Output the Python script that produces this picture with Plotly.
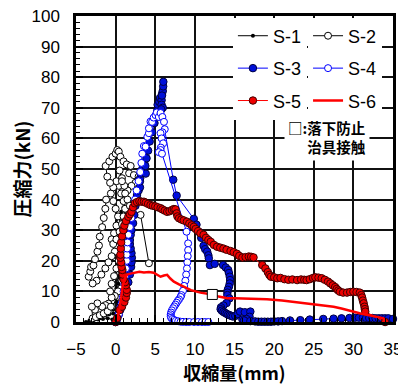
import plotly.graph_objects as go

# ---------------- data ----------------
x_ticks = [-5, 0, 5, 10, 15, 20, 25, 30, 35]
y_ticks = [0, 10, 20, 30, 40, 50, 60, 70, 80, 90, 100]

s1_points = [(0.0, 0.0), (-0.4, 0.8), (-1.0, 1.2), (-1.6, 1.0), (-2.2, 0.8), (-2.8, 0.5), (-3.3, 0.2),
             (-3.75, 0.0), (-3.3, 0.5), (-2.8, 0.9), (-2.3, 1.3), (-1.8, 1.7), (-1.3, 2.1), (-0.8, 2.5),
             (-0.3, 2.8), (0.2, 3.0), (0.3, 4.5), (0.2, 6.5), (0.1, 8.5), (0.2, 10.5), (0.35, 12.5),
             (0.5, 14.5), (0.6, 16.5), (0.5, 18.5), (0.4, 20.5), (0.5, 22.5), (0.6, 24.5), (0.7, 26.5),
             (0.9, 28.0), (0.6, 29.0), (0.3, 30.5), (0.5, 32.0), (0.8, 33.5), (1.1, 35.0), (1.3, 36.5),
             (1.0, 37.5), (0.7, 36.0), (0.4, 34.0), (0.7, 31.5), (1.0, 29.5), (1.3, 28.0), (1.0, 26.0),
             (0.6, 23.0), (0.4, 19.0), (0.3, 15.0), (0.1, 11.0), (-0.1, 7.0), (-0.3, 4.0)]

s2_points = [(0.0, 0.0), (0.3, 2.0), (0.6, 4.5), (0.8, 7.0), (0.9, 9.5), (0.7, 11.0), (0.3, 10.0),
             (-0.1, 8.5), (-0.5, 7.0), (-0.9, 6.0), (-1.3, 5.5), (-1.7, 5.0), (-2.3, 6.1), (-2.6, 4.0),
             (-3.0, 5.0), (-2.9, 1.2), (-2.5, 1.6), (-2.0, 2.2), (-1.5, 2.8), (-1.0, 3.5), (-0.6, 5.0),
             (-0.5, 8.0), (-0.7, 10.0), (-0.5, 12.5), (-0.2, 15.0), (0.1, 17.5), (0.4, 20.0), (0.5, 22.5),
             (0.3, 24.5), (-0.1, 23.0), (-0.5, 21.5), (-0.9, 19.5), (-1.3, 17.5), (-1.8, 15.5),
             (-2.4, 13.5), (-2.9, 12.6), (-3.4, 14.8), (-3.2, 16.5), (-3.1, 18.0), (-2.8, 18.5),
             (-2.6, 20.5), (-2.3, 23.0), (-2.1, 25.0), (-2.0, 27.9), (-1.7, 31.0), (-1.5, 34.0),
             (-1.3, 37.0), (-1.2, 40.0), (-0.6, 42.0), (-0.3, 39.5), (0.0, 37.0), (0.3, 34.5),
             (0.1, 31.5), (-0.2, 29.0), (-0.5, 27.0), (-0.3, 25.5), (0.1, 27.0), (0.5, 29.5), (0.8, 32.0),
             (1.0, 34.5), (1.2, 37.0), (1.0, 39.5), (0.7, 42.0), (0.4, 44.5), (0.1, 46.0), (-0.3, 44.0),
             (-0.7, 45.5), (-1.05, 47.5), (-1.26, 51.0), (-0.8, 52.5), (-0.4, 54.0), (0.0, 55.0),
             (0.2, 56.2), (0.4, 55.7), (0.6, 54.0), (1.0, 52.5), (1.4, 51.5), (1.9, 51.0), (1.7, 48.6),
             (2.3, 48.0), (2.9, 47.5), (2.5, 45.5), (2.0, 44.5), (1.5, 43.0), (1.1, 44.5), (0.8, 47.0),
             (0.5, 49.5), (0.8, 46.0), (1.2, 42.0), (1.5, 40.0), (1.8, 38.0), (2.1, 36.0), (3.15, 35.0),
             (4.2, 19.2)]

s3_points = [(0.0, 0.0), (0.2, 1.0), (0.4, 2.5), (0.6, 4.0), (0.8, 6.0), (1.0, 8.0), (1.3, 10.5),
             (1.6, 13.0), (1.8, 15.5), (1.95, 18.0), (2.0, 19.5), (2.05, 21.0), (2.0, 22.5), (1.9, 24.0),
             (1.8, 25.5), (1.8, 26.8), (1.9, 28.5), (2.0, 30.0), (2.2, 32.3), (2.35, 35.0), (2.5, 38.0),
             (2.6, 40.0), (2.7, 41.5), (2.9, 43.0), (3.07, 44.0), (3.07, 46.0), (3.1, 47.0), (3.2, 48.5),
             (3.36, 50.0), (3.6, 52.0), (3.8, 48.5), (3.75, 51.0), (3.9, 53.5), (4.1, 56.0), (4.3, 59.0),
             (4.6, 62.0), (4.9, 65.0), (5.1, 67.0), (5.25, 69.0), (5.3, 71.0), (5.5, 72.0), (5.6, 73.2),
             (5.8, 72.5), (5.85, 74.5), (5.95, 75.5), (6.0, 77.0), (6.02, 78.5), (5.85, 74.0),
             (5.8, 71.0), (5.95, 70.0), (5.75, 69.5), (7.27, 46.5), (7.7, 41.3), (9.87, 33.7),
             (10.2, 31.8), (10.5, 29.5), (10.8, 27.5), (11.1, 24.9), (11.3, 23.8), (11.55, 23.0),
             (11.7, 21.8), (11.76, 20.8), (11.9, 18.6), (12.5, 19.0), (13.56, 18.6), (13.9, 17.8),
             (14.2, 17.0), (14.3, 16.0), (14.4, 14.8), (14.45, 13.7), (14.4, 12.6), (14.3, 11.5),
             (14.15, 10.5), (14.1, 9.6), (14.1, 8.8), (14.36, 7.7), (14.0, 6.2), (13.6, 5.4),
             (13.3, 4.8), (13.25, 4.2), (13.4, 3.7), (13.6, 3.3), (13.8, 3.0), (14.0, 2.7), (14.2, 2.4),
             (14.4, 2.2), (14.6, 2.0), (14.8, 1.8), (15.1, 2.0), (15.4, 2.6), (15.7, 3.4), (16.3, 3.2),
             (17.0, 3.4), (16.9, 1.7), (16.5, 1.0), (16.0, 0.8), (16.2, 0.5), (17.0, 0.3), (17.6, 0.2),
             (18.0, 0.1), (18.4, 0.1), (18.8, 0.1), (19.2, 0.1), (19.6, 0.1), (20.0, 0.2), (20.5, 0.2),
             (21.0, 0.3), (22.0, 0.5), (23.3, 0.6), (24.5, 0.8), (26.2, 1.0), (27.5, 1.1), (28.5, 1.2),
             (29.5, 1.3), (30.2, 1.4), (30.7, 1.4), (31.2, 1.4), (31.6, 1.3), (32.0, 1.3), (32.4, 1.3),
             (32.8, 1.2), (33.2, 1.2), (33.6, 1.2), (34.0, 1.2), (34.4, 1.2), (35.0, 1.0)]

s4_points = [(0.0, 0.0), (0.2, 1.0), (0.4, 2.5), (0.55, 4.5), (0.75, 6.0), (0.9, 8.0), (1.0, 10.0),
             (1.1, 12.5), (1.2, 15.0), (1.3, 17.5), (1.4, 20.0), (1.4, 22.0), (1.45, 24.0), (1.5, 26.0),
             (1.6, 28.5), (1.8, 31.0), (2.0, 34.0), (2.2, 37.0), (2.45, 40.0), (2.65, 43.0), (2.9, 46.0),
             (3.1, 49.0), (3.25, 52.0), (3.36, 55.0), (3.57, 57.5), (3.78, 57.3), (4.0, 60.5),
             (4.2, 61.7), (4.2, 63.3), (4.4, 65.5), (4.6, 65.4), (4.8, 66.8), (5.04, 67.6), (5.2, 68.5),
             (5.45, 67.0), (5.67, 68.3), (5.9, 67.0), (6.1, 65.4), (6.2, 63.0), (5.9, 62.0),
             (5.67, 61.7), (5.8, 60.0), (6.0, 58.4), (5.7, 57.0), (5.67, 56.2), (5.45, 55.5),
             (5.85, 55.0), (8.95, 29.5), (9.15, 25.7), (9.15, 23.5), (9.1, 21.5), (9.05, 19.5),
             (9.0, 17.5), (8.9, 15.5), (8.8, 13.5), (8.65, 11.8), (8.5, 10.2), (8.3, 8.8), (8.2, 8.2),
             (8.0, 7.4), (7.85, 6.9), (7.7, 6.3), (7.55, 5.7), (7.4, 5.1), (7.25, 4.5), (7.1, 3.8),
             (7.0, 3.1), (6.95, 2.5), (6.95, 1.9), (7.0, 1.4), (7.15, 1.0), (7.35, 0.7), (7.6, 0.4),
             (7.9, 0.25), (8.2, 0.1), (8.5, 0.05), (8.9, 0.0), (9.3, 0.0), (9.9, 0.0), (10.4, 0.0),
             (10.9, 0.0), (11.3, 0.0), (11.7, 0.0)]

s5_points = [(0.0, 0.0), (0.2, 1.3), (0.5, 3.9), (0.8, 5.0), (1.1, 6.5), (1.3, 8.0), (1.4, 9.5),
             (1.4, 10.5), (1.3, 12.0), (1.2, 13.0), (1.0, 14.0), (0.9, 15.5), (0.85, 17.0), (0.75, 18.0),
             (0.7, 19.5), (0.6, 21.0), (0.6, 22.0), (0.65, 24.0), (0.7, 26.0), (0.8, 28.0), (0.97, 30.0),
             (1.1, 31.5), (1.3, 33.0), (1.6, 34.4), (1.8, 35.2), (2.0, 36.0), (2.2, 37.5), (2.43, 38.8),
             (2.7, 39.2), (3.0, 39.5), (3.27, 39.3), (3.57, 39.3), (3.8, 39.0), (4.1, 38.6), (4.4, 38.2),
             (4.7, 38.0), (5.0, 37.8), (5.3, 37.5), (5.67, 37.2), (5.9, 36.8), (6.2, 36.4), (6.5, 36.0),
             (6.8, 36.2), (7.1, 36.6), (7.35, 36.9), (7.55, 36.8), (7.7, 35.5), (7.8, 34.5), (8.0, 33.9),
             (8.3, 33.5), (8.6, 33.2), (9.0, 32.8), (9.3, 32.2), (9.6, 31.6), (9.87, 31.1), (10.1, 30.4),
             (10.4, 29.7), (10.7, 29.0), (11.1, 28.5), (11.4, 27.5), (11.7, 26.8), (12.0, 26.2),
             (12.4, 25.2), (12.8, 24.6), (13.2, 24.3), (13.6, 24.0), (14.0, 23.6), (14.5, 23.2),
             (14.9, 22.8), (15.3, 22.3), (15.6, 21.6), (16.0, 21.1), (16.4, 21.2), (16.8, 21.4),
             (17.1, 21.3), (17.4, 21.1), (18.5, 18.6), (18.9, 17.5), (19.2, 16.3), (19.4, 15.4),
             (19.6, 14.8), (20.0, 14.6), (20.4, 14.3), (20.8, 14.4), (21.3, 14.0), (21.8, 13.8),
             (22.3, 13.9), (22.9, 13.7), (23.4, 13.9), (23.8, 13.8), (24.1, 13.7), (24.5, 14.0),
             (24.9, 14.4), (25.2, 14.6), (25.6, 14.5), (26.0, 14.3), (26.4, 13.8), (26.8, 13.2),
             (27.1, 12.6), (27.4, 12.0), (27.7, 11.4), (27.9, 10.8), (28.1, 10.3), (28.3, 9.9),
             (28.7, 9.6), (29.2, 9.6), (29.6, 9.8), (30.0, 9.9), (30.4, 9.8), (30.8, 9.6), (31.0, 8.8),
             (31.1, 8.0), (31.2, 7.0), (31.3, 6.1), (31.4, 5.0), (31.45, 4.2), (31.5, 3.4), (34.0, 0.0)]

s6_points = [(0.0, 0.0), (0.4, 3.0), (0.7, 8.0), (0.9, 12.0), (1.2, 14.5), (1.5, 15.6), (2.0, 15.9),
             (2.5, 16.2), (3.0, 16.4), (3.57, 16.2), (4.2, 16.3), (4.8, 16.1), (5.2, 15.5), (5.67, 14.8),
             (6.1, 15.2), (6.5, 15.4), (6.9, 14.2), (7.35, 13.2), (8.0, 12.3), (8.6, 11.5), (9.5, 10.4),
             (10.7, 9.6), (11.5, 9.2), (12.2, 9.0), (13.0, 8.3), (14.1, 7.8), (15.0, 7.8), (16.2, 7.7),
             (17.5, 7.7), (19.1, 7.4), (21.0, 7.0), (23.3, 6.3), (25.5, 5.6), (27.5, 5.0), (28.5, 4.4),
             (29.2, 3.9), (30.1, 3.3), (30.9, 2.8), (32.0, 2.2), (33.0, 1.7), (33.8, 1.2), (34.0, 0.2)]

contact_point = [(12.2, 9.0)]   # 落下防止治具接触

series_names = ["S-1", "S-2", "S-3", "S-4", "S-5", "S-6"]


def xs(pts):
    return [p[0] for p in pts]


def ys(pts):
    return [p[1] for p in pts]


fig = go.Figure()

# S-1 : small black dots
fig.add_trace(go.Scatter(x=xs(s1_points), y=ys(s1_points), name=series_names[0], mode="lines+markers",
                         line=dict(color="black", width=1),
                         marker=dict(size=4, color="black"),
                         legend="legend", legendgroup="g1", cliponaxis=False))
# S-2 : open black circles
fig.add_trace(go.Scatter(x=xs(s2_points), y=ys(s2_points), name=series_names[1], mode="lines+markers",
                         line=dict(color="black", width=1),
                         marker=dict(size=7, color="white", line=dict(color="black", width=1)),
                         legend="legend2", legendgroup="g2", cliponaxis=False))
# S-3 : filled blue circles
fig.add_trace(go.Scatter(x=xs(s3_points), y=ys(s3_points), name=series_names[2], mode="lines+markers",
                         line=dict(color="#0000ff", width=1),
                         marker=dict(size=7.5, color="#0010d8", line=dict(color="#000040", width=1)),
                         legend="legend", legendgroup="g3", cliponaxis=False))
# S-4 : open blue circles
fig.add_trace(go.Scatter(x=xs(s4_points), y=ys(s4_points), name=series_names[3], mode="lines+markers",
                         line=dict(color="#0000ff", width=1),
                         marker=dict(size=7, color="white", line=dict(color="#0000ff", width=1)),
                         legend="legend2", legendgroup="g4", cliponaxis=False))
# S-5 : filled red circles
fig.add_trace(go.Scatter(x=xs(s5_points), y=ys(s5_points), name=series_names[4], mode="lines+markers",
                         line=dict(color="#ff0000", width=1),
                         marker=dict(size=7.5, color="#ee0000", line=dict(color="#400000", width=1)),
                         legend="legend", legendgroup="g5", cliponaxis=False))
# S-6 : red line
fig.add_trace(go.Scatter(x=xs(s6_points), y=ys(s6_points), name=series_names[5], mode="lines",
                         line=dict(color="#ff0000", width=2.5),
                         legend="legend2", legendgroup="g6", cliponaxis=False))
# contact marker
fig.add_trace(go.Scatter(x=xs(contact_point), y=ys(contact_point), mode="markers", showlegend=False,
                         marker=dict(symbol="square", size=10, color="white",
                                     line=dict(color="black", width=1))))

axis_common = dict(showgrid=True, gridcolor="#111111", gridwidth=1.5, zeroline=False,
                   showline=True, linecolor="black", linewidth=2.5, mirror=True,
                   ticks="inside", ticklen=7, tickwidth=1.5, tickcolor="black",
                   ticklabeloverflow="allow",
                   tickfont=dict(family="Liberation Sans, Arial, sans-serif", size=17, color="black"))

fig.update_xaxes(range=[-5, 35], tickvals=x_ticks, ticktext=["−5"] + [str(v) for v in x_ticks[1:]],
                 minor=dict(dtick=1, tick0=0, ticks="inside", ticklen=4, tickwidth=1, tickcolor="black",
                            showgrid=False),
                 ticklabelstandoff=10,
                 title=dict(text="<b>収縮量(mm)</b>", standoff=19,
                            font=dict(family="Noto Sans CJK JP", size=18, color="black")),
                 **axis_common)
fig.update_yaxes(range=[0, 100], tickvals=y_ticks,
                 minor=dict(dtick=2, tick0=0, ticks="inside", ticklen=4, tickwidth=1, tickcolor="black",
                            showgrid=False),
                 ticklabelstandoff=10,
                 title=dict(text="<b>圧縮力(kN)</b>", standoff=0,
                            font=dict(family="Noto Sans CJK JP", size=19, color="black")),
                 **axis_common)

legend_common = dict(bgcolor="white", borderwidth=0, tracegroupgap=6, itemwidth=30,
                     font=dict(family="Liberation Sans, Arial, sans-serif", size=18, color="black"),
                     xanchor="left", yanchor="top", orientation="v")
fig.update_layout(
    width=398, height=377,
    margin=dict(l=68, r=13, t=8, b=63, autoexpand=False),
    paper_bgcolor="white", plot_bgcolor="white",
    font=dict(family="Liberation Sans, Arial, sans-serif", color="black"),
    legend=dict(x=0.495, y=0.995, **legend_common),
    legend2=dict(x=0.732, y=0.995, **legend_common),
    annotations=[dict(x=26.7, y=60.6, xref="x", yref="y", showarrow=False, align="right",
                      text="<b>□:落下防止<br>治具接触</b>", bgcolor="white", borderpad=3,
                      font=dict(family="Noto Sans CJK JP", size=14.5, color="black"))],
)

fig.write_html("out.html")
